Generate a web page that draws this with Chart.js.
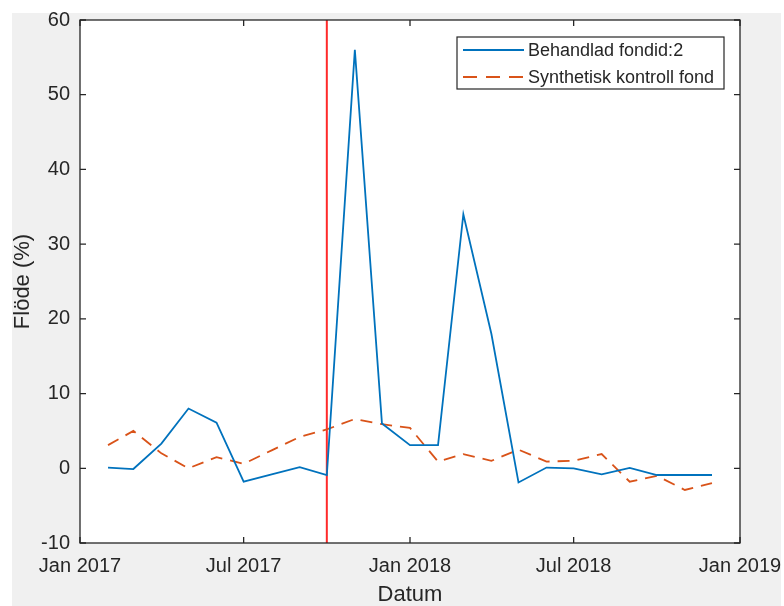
<!DOCTYPE html>
<html>
<head>
<meta charset="utf-8">
<script src="https://cdn.jsdelivr.net/npm/chart.js@4/dist/chart.umd.min.js"></script>
<style>
  html, body { margin: 0; padding: 0; background: #ffffff; }
  #flowChart { display: block; }
</style>
</head>
<body>
<canvas id="flowChart" width="784" height="606"></canvas>
<script>
// monthly observations (first of month)
var months = ['2017-02', '2017-03', '2017-04', '2017-05', '2017-06', '2017-07', '2017-08', '2017-09',
              '2017-10', '2017-11', '2017-12', '2018-01', '2018-02', '2018-03', '2018-04', '2018-05',
              '2018-06', '2018-07', '2018-08', '2018-09', '2018-10', '2018-11', '2018-12'];
var behandlad = [0.1, -0.1, 3.3, 8.0, 6.1, -1.8, -0.8, 0.15, -0.9, 56.0, 6.0, 3.1,
                 3.1, 34.0, 18.0, -1.9, 0.1, 0.0, -0.8, 0.05, -0.9, -0.9, -0.9];
var kontroll = [3.1, 5.0, 2.0, 0.0, 1.5, 0.6, 2.4, 4.2, 5.2, 6.6, 5.9, 5.4,
                0.9, 1.9, 1.0, 2.5, 0.9, 1.0, 1.9, -1.8, -1.0, -2.9, -2.0];
var seriesLabels = ['Behandlad fondid:2', 'Synthetisk kontroll fond'];
var treatmentMonth = '2017-10';

var xTickMonths = ['2017-01', '2017-07', '2018-01', '2018-07', '2019-01'];
var xTickLabels = ['Jan 2017', 'Jul 2017', 'Jan 2018', 'Jul 2018', 'Jan 2019'];
var yTicks = [-10, 0, 10, 20, 30, 40, 50, 60];

var FlowChart =
{
    ink: '#262626',

    init: function()
    {
        var ctx = document.getElementById('flowChart');
        var treatX = FlowChart.toDays(treatmentMonth);

        new Chart(ctx, {
            type: 'line',
            data: {
                datasets: [
                    {
                        label: seriesLabels[0],
                        data: FlowChart.toPoints(behandlad),
                        borderColor: '#0072BD',
                        borderWidth: 1.8,
                        pointRadius: 0,
                        tension: 0
                    },
                    {
                        label: seriesLabels[1],
                        data: FlowChart.toPoints(kontroll),
                        borderColor: '#D95319',
                        borderWidth: 1.8,
                        borderDash: [12, 8],
                        legendDash: [14, 9],
                        pointRadius: 0,
                        tension: 0
                    },
                    {
                        label: 'treatment',
                        data: [{x: treatX, y: yTicks[0]}, {x: treatX, y: yTicks[yTicks.length - 1]}],
                        borderColor: '#ff2a2a',
                        borderWidth: 2,
                        pointRadius: 0,
                        hideInLegend: true
                    }
                ]
            },
            options: {
                responsive: false,
                animation: false,
                devicePixelRatio: 1,
                layout: { padding: { top: 20, right: 44, left: 0, bottom: 0 } },
                plugins: {
                    legend: { display: false },
                    tooltip: { enabled: false }
                },
                scales: {
                    x: {
                        type: 'linear',
                        min: FlowChart.toDays(xTickMonths[0]),
                        max: FlowChart.toDays(xTickMonths[xTickMonths.length - 1]),
                        grid: { display: false },
                        border: { display: false },
                        afterBuildTicks: function(scale) {
                            scale.ticks = xTickMonths.map(function(m) { return {value: FlowChart.toDays(m)}; });
                        },
                        afterFit: function(scale) {
                            scale.height = 63;
                            scale.paddingLeft = 0;
                            scale.paddingRight = 0;
                        },
                        ticks: {
                            autoSkip: false,
                            maxRotation: 0,
                            padding: 3,
                            color: FlowChart.ink,
                            font: { family: 'Liberation Sans, Arial, sans-serif', size: 20 },
                            callback: function(value, index) { return xTickLabels[index]; }
                        },
                        title: {
                            display: true,
                            text: 'Datum',
                            color: FlowChart.ink,
                            padding: { top: 0, bottom: 0 },
                            font: { family: 'Liberation Sans, Arial, sans-serif', size: 22, lineHeight: 1.0 }
                        }
                    },
                    y: {
                        min: yTicks[0],
                        max: yTicks[yTicks.length - 1],
                        grid: { display: false },
                        border: { display: false },
                        afterBuildTicks: function(scale) {
                            scale.ticks = yTicks.map(function(v) { return {value: v}; });
                        },
                        afterFit: function(scale) {
                            scale.width = 80;
                            scale.paddingTop = 0;
                            scale.paddingBottom = 0;
                        },
                        ticks: {
                            padding: 2,
                            color: FlowChart.ink,
                            font: { family: 'Liberation Sans, Arial, sans-serif', size: 20 }
                        },
                        title: {
                            display: true,
                            text: 'Flöde (%)',
                            color: FlowChart.ink,
                            padding: { top: 10, bottom: 0 },
                            font: { family: 'Liberation Sans, Arial, sans-serif', size: 22 }
                        }
                    }
                }
            },
            plugins: [FlowChart.framePlugin]
        });
    },

    toDays: function(month)
    {
        var p = month.split('-');
        return (Date.UTC(+p[0], +p[1] - 1, 1) - Date.UTC(2017, 0, 1)) / 86400000;
    },

    toPoints: function(values)
    {
        return values.map(function(v, i) {
            return {x: FlowChart.toDays(months[i]), y: v};
        });
    },

    framePlugin: {
        id: 'matlabFrame',

        beforeDraw: function(chart)
        {
            var c = chart.ctx, a = chart.chartArea;
            c.save();
            c.fillStyle = '#ffffff';
            c.fillRect(0, 0, chart.width, chart.height);
            c.fillStyle = '#f0f0f0';
            c.fillRect(12, 13, 769, chart.height - 13);
            c.fillStyle = '#ffffff';
            c.fillRect(a.left, a.top, a.right - a.left, a.bottom - a.top);
            c.restore();
        },

        afterDatasetsDraw: function(chart)
        {
            var c = chart.ctx, a = chart.chartArea;
            var xs = chart.scales.x, ys = chart.scales.y;
            var len = 6;

            c.save();
            c.strokeStyle = FlowChart.ink;
            c.lineWidth = 1.3;
            c.strokeRect(a.left, a.top, a.right - a.left, a.bottom - a.top);

            // inward ticks on all four sides
            c.beginPath();
            xs.ticks.forEach(function(t) {
                var px = xs.getPixelForValue(t.value);
                c.moveTo(px, a.bottom); c.lineTo(px, a.bottom - len);
                c.moveTo(px, a.top); c.lineTo(px, a.top + len);
            });
            ys.ticks.forEach(function(t) {
                var py = ys.getPixelForValue(t.value);
                c.moveTo(a.left, py); c.lineTo(a.left + len, py);
                c.moveTo(a.right, py); c.lineTo(a.right - len, py);
            });
            c.stroke();

            // legend box
            var bx = 457, by = 37, bw = 267, bh = 52;
            c.fillStyle = '#ffffff';
            c.fillRect(bx, by, bw, bh);
            c.lineWidth = 1.2;
            c.strokeRect(bx, by, bw, bh);

            c.font = '18px "Liberation Sans", Arial, sans-serif';
            c.textBaseline = 'middle';
            c.textAlign = 'left';
            var rowY = [50, 77];
            chart.data.datasets.forEach(function(ds, i) {
                if (ds.hideInLegend) return;
                c.beginPath();
                c.strokeStyle = ds.borderColor;
                c.lineWidth = ds.borderWidth;
                c.setLineDash(ds.legendDash || []);
                c.moveTo(463, rowY[i]);
                c.lineTo(524, rowY[i]);
                c.stroke();
                c.setLineDash([]);
                c.fillStyle = FlowChart.ink;
                c.fillText(ds.label, 528, rowY[i] + 1);
            });
            c.restore();
        }
    }
}
FlowChart.init();
</script>
</body>
</html>
